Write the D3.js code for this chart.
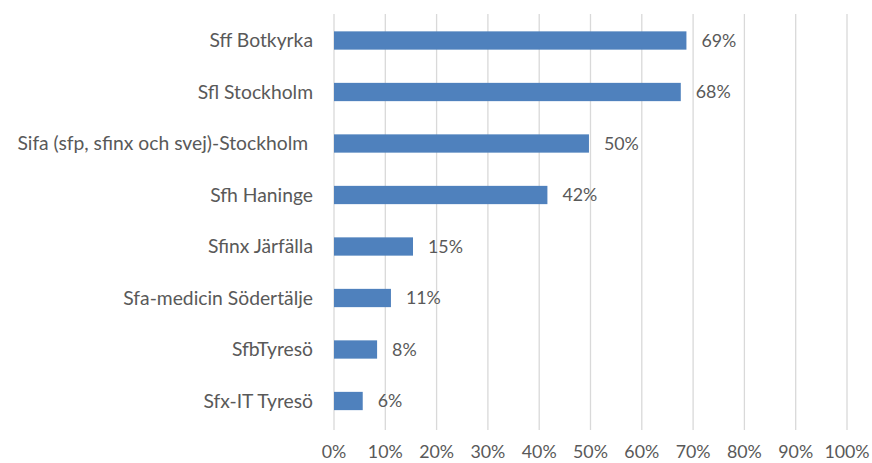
<!DOCTYPE html>
<html><head><meta charset="utf-8">
<script src="https://cdn.jsdelivr.net/npm/d3@7"></script>
<style>body{margin:0;background:#fff}svg{display:block}text{font-family:Lato,sans-serif;fill:#595959}</style>
</head><body>
<script>
const categories = ["Sff Botkyrka","Sfl Stockholm","Sifa (sfp, sfinx och svej)-Stockholm ","Sfh Haninge","Sfinx Järfälla","Sfa-medicin Södertälje","SfbTyresö","Sfx-IT Tyresö"];
const values = [68.7, 67.6, 49.7, 41.6, 15.4, 11.1, 8.4, 5.6];
const xTicks = [0,10,20,30,40,50,60,70,80,90,100];

const W = 872, H = 463;
const svg = d3.select("body").append("svg").attr("width", W).attr("height", H);
const x = d3.scaleLinear().domain([0,100]).range([334, 847]);
const y = d3.scaleBand().domain(categories).range([14.75, 426.75]).paddingInner(0.645).paddingOuter(0.3225);

svg.append("g").selectAll("line").data(xTicks).join("line")
  .attr("x1", d => x(d)).attr("x2", d => x(d))
  .attr("y1", 14).attr("y2", 430)
  .attr("stroke", "#d9d9d9").attr("stroke-width", 1.3);

svg.append("g").selectAll("rect").data(values).join("rect")
  .attr("x", x(0)).attr("y", (d,i) => y(categories[i]))
  .attr("width", d => x(d) - x(0)).attr("height", y.bandwidth())
  .attr("fill", "#4f81bd");

svg.append("g").selectAll("text").data(values).join("text")
  .attr("x", d => x(d) + 15).attr("y", (d,i) => y(categories[i]) + y.bandwidth()/2)
  .attr("dy", "0.36em").attr("font-size", 17.8)
  .text(d => Math.round(d) + "%");

svg.append("g").selectAll("text").data(categories).join("text")
  .attr("x", 313).attr("y", d => y(d) + y.bandwidth()/2)
  .attr("dy", "0.36em").attr("text-anchor", "end").attr("font-size", 19.3)
  .attr("xml:space", "preserve")
  .text(d => d);

svg.append("g").selectAll("text").data(xTicks).join("text")
  .attr("x", d => x(d)).attr("y", 452).attr("dy", "0.36em")
  .attr("text-anchor", "middle").attr("font-size", 17.8)
  .text(d => d + "%");
</script>
</body></html>
